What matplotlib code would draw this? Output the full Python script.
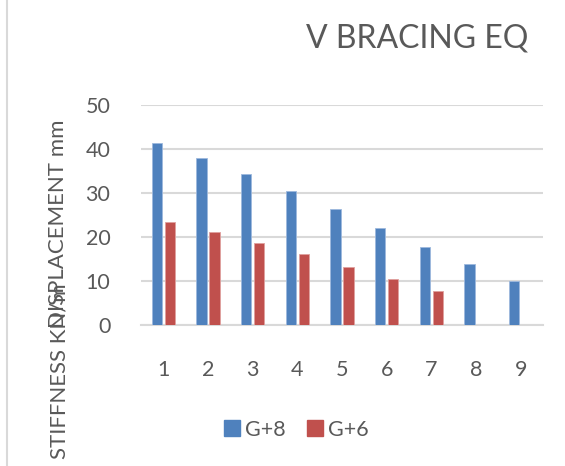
import numpy as np
import matplotlib.pyplot as plt
from matplotlib.lines import Line2D

# storey numbers and displacement values
storeys = ['1', '2', '3', '4', '5', '6', '7', '8', '9']
g8 = [41.3, 37.9, 34.3, 30.4, 26.3, 22.1, 17.8, 13.9, 10.0]
g6 = [23.4, 21.2, 18.7, 16.1, 13.3, 10.5, 7.7, np.nan, np.nan]

plt.rcParams['font.family'] = ['Lato', 'DejaVu Sans']
txt = '#595959'
grid = '#D9D9D9'

fig = plt.figure(figsize=(5.65, 4.66), dpi=100)
ax = fig.add_axes([0.2496, 0.302, 0.7114, 0.473])

x = np.arange(len(storeys))
w = 0.23
ax.bar(x - 0.146, g8, w, color='#4F81BD', edgecolor='#9DB9DE', linewidth=0.6, label='G+8', zorder=3)
ax.bar(x + 0.146, g6, w, color='#C0504D', edgecolor='#E0A09E', linewidth=0.6, label='G+6', zorder=3)

ax.set_xlim(-0.5, len(storeys) - 0.5)
ax.set_ylim(0, 50)
ax.set_yticks(range(0, 51, 10))
ax.set_xticks(x)
ax.set_xticklabels(storeys)
ax.yaxis.grid(True, color=grid, linewidth=1.5, zorder=0)
for s in ['top', 'right', 'left']:
    ax.spines[s].set_visible(False)
ax.spines['bottom'].set_color(grid)
ax.spines['bottom'].set_linewidth(1.5)
ax.tick_params(axis='both', length=0, colors=txt, labelsize=15.5)
ax.tick_params(axis='y', pad=22)
ax.tick_params(axis='x', pad=25)

fig.text(417 / 565, 1 - 47 / 466, 'V BRACING EQ', ha='center', va='baseline', fontsize=23, color=txt)

# two overlapping axis titles, as in the original
fig.text(58 / 565, 1 - 224 / 466, 'DISPLACEMENT mm', rotation=90, ha='center', va='center',
         fontsize=16, color=txt)
fig.text(60 / 565, 1 - 283 / 466, 'STIFFNESS KN/m', rotation=90, ha='center', va='top',
         fontsize=16, color=txt)

handles = [Line2D([], [], marker='s', linestyle='', markersize=11, color='#4F81BD'),
           Line2D([], [], marker='s', linestyle='', markersize=11, color='#C0504D')]
fig.legend(handles, ['G+8', 'G+6'], loc='center', bbox_to_anchor=(295 / 565, 1 - 430 / 466),
           ncol=2, frameon=False, fontsize=15.5, labelcolor=txt, handletextpad=0.1,
           columnspacing=0.9, handlelength=1.0)

# chart border on the left edge
fig.add_artist(Line2D([7 / 565, 7 / 565], [0, 1], color=grid, linewidth=1.5))

fig.savefig('out.png', dpi=100)
